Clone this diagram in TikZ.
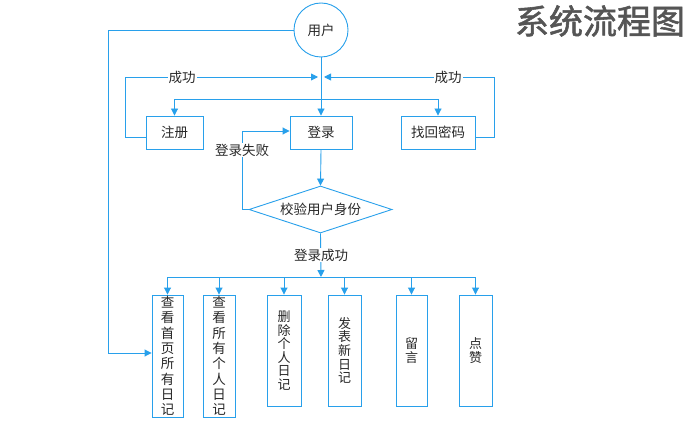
\documentclass[tikz,border=0pt]{standalone}
\usepackage{fontspec}
\setmainfont{Noto Sans CJK SC}
\newfontfamily\cjktitle[FakeBold=1.6]{Noto Sans CJK SC}
\usetikzlibrary{shapes.geometric,arrows.meta}
\definecolor{lineblue}{RGB}{40,160,235}
\definecolor{txt}{RGB}{40,40,40}
\definecolor{ttl}{RGB}{85,85,85}
\tikzset{
  x=1pt,y=-1pt,
  conn/.style={draw=lineblue,line width=0.9pt},
  arr/.style={conn,-{Triangle[width=7pt,length=7pt]}},
  box/.style={draw=lineblue,line width=0.9pt,rectangle,inner sep=0pt,text=txt,font=\fontsize{13.5}{16}\selectfont},
  vbox/.style={box,align=center,font=\fontsize{13.5}{15.3}\selectfont},
  lbl/.style={fill=white,inner sep=1pt,text=txt,font=\fontsize{13.5}{16}\selectfont},
}
\begin{document}
\begin{tikzpicture}
\useasboundingbox (0,0) rectangle (692,422);
\fill[white] (0,0) rectangle (692,422);
% title
\node[text=ttl,font=\cjktitle\fontsize{34}{36}\selectfont] (title) at (600,21) {系统流程图};
% user circle
\node[circle,draw=lineblue,line width=0.9pt,minimum size=54pt,inner sep=0pt,text=txt,font=\fontsize{13.5}{16}\selectfont] (user) at (321,30) {用户};
% top boxes
\node[box,minimum width=57pt,minimum height=33pt] (reg) at (174.5,132.5) {注册};
\node[box,minimum width=62pt,minimum height=33pt] (login) at (321,132.5) {登录};
\node[box,minimum width=74pt,minimum height=33pt] (find) at (438,132.5) {找回密码};
% diamond
\node[diamond,aspect=3,draw=lineblue,line width=0.9pt,minimum width=143pt,minimum height=47pt,inner sep=0pt,text=txt,font=\fontsize{13.5}{16}\selectfont] (chk) at (320.5,209.5) {校验用户身份};
% bottom boxes
\node[vbox,minimum width=31pt,minimum height=122pt] (b1) at (167.5,356) {查\\看\\首\\页\\所\\有\\日\\记};
\node[vbox,minimum width=32pt,minimum height=122pt] (b2) at (219,356) {查\\看\\所\\有\\个\\人\\日\\记};
\node[vbox,minimum width=34pt,minimum height=111pt,font=\fontsize{13}{13.6}\selectfont] (b3) at (284,350.5) {删\\除\\个\\人\\日\\记};
\node[vbox,minimum width=33pt,minimum height=111pt,font=\fontsize{13}{13.6}\selectfont] (b4) at (344.5,350.5) {发\\表\\新\\日\\记};
\node[vbox,minimum width=31pt,minimum height=111pt,font=\fontsize{13}{13.6}\selectfont] (b5) at (411.5,350.5) {留\\言};
\node[vbox,minimum width=33pt,minimum height=111pt,font=\fontsize{13}{13.6}\selectfont] (b6) at (475.5,350.5) {点\\赞};
% coordinates
\coordinate (mid) at (321,77);
\coordinate (split) at (321,99);
\coordinate (bar) at (321,277);
% user -> login
\draw[arr] (user.south) -- (login.north);
\draw[arr] (split) -| (reg.north);
\draw[arr] (split) -| (find.north);
% success loops
\draw[arr] (reg.west |- 0,137) -- (125,137) -- (125,77) -- ([xshift=-3pt]mid);
\node[lbl] (s1) at (182,77) {成功};
\draw[arr] (find.east |- 0,137) -- (494,137) -- (494,77) -- ([xshift=3pt]mid);
\node[lbl] (s2) at (448,77) {成功};
% login -> check
\draw[arr] (login.south) -- (chk.north);
% failure
\draw[arr] (chk.west) -- (242,209.5) -- (242,131) -- (login.west |- 0,131);
\node[lbl] (fail) at (242,150) {登录失败};
% success -> bar
\draw[arr] (chk.south) -- (bar);
\node[lbl] (ok) at (321,255) {登录成功};
\draw[conn] (b1.north |- bar) -- (b6.north |- bar);
\foreach \b in {b1,b2,b3,b4,b5,b6} {
  \draw[arr] (\b.north |- bar) -- (\b.north);
}
% left long line
\draw[arr] (user.west) -- (108,30) -- (108,353) -- (b1.west |- 0,353);
\end{tikzpicture}
\end{document}
